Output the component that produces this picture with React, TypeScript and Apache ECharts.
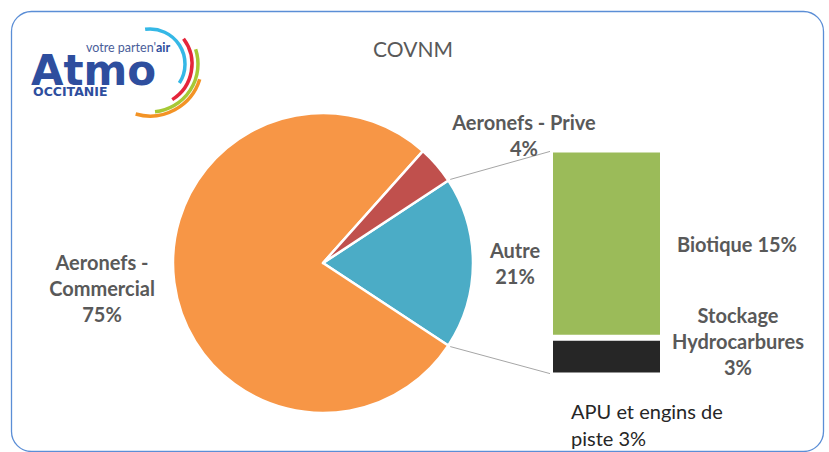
import React, { useEffect, useRef } from "react";
import * as echarts from "echarts";

// ---- data ----
const title = "COVNM";
const pieNames = ["Autre", "Aeronefs - Commercial", "Aeronefs - Prive"];
const commercial = 75;
const prive = 4;
const barNames = ["Biotique", "Stockage Hydrocarbures"];
const biotique = 15;
const stockage = 3;
const apuName = "APU et engins de piste";
const apu = 3;

// values drawn (Autre slice = bar items)
const autreDrawn = biotique + stockage;
const pieValues = [autreDrawn, commercial, prive];
// values written on the labels (Autre includes APU)
const pieLabelValues = [biotique + stockage + apu, commercial, prive];
const pieLabelTexts = ["Autre", "Aeronefs -\nCommercial", "Aeronefs - Prive"];
const pieColors = ["#4BACC6", "#F79646", "#C0504D"];
const barColors = ["#9BBB59", "#262626"];

// ---- layout ----
const W = 829;
const H = 452;
const PIE_CX = 323;
const PIE_CY = 263;
const PIE_R = 150;
const BAR_L = 550;
const BAR_T = 149.5;
const BAR_W = 113;
const BAR_H = 226;
const labelPos = [
  { x: 515, y: 263 },
  { x: 102, y: 288 },
  { x: 524, y: 135 },
];
const FONT = "Lato, 'Open Sans', sans-serif";
const GREY = "#595959";
const LSIZE = 20;

export default function App() {
  const ref = useRef<HTMLDivElement>(null);
  useEffect(() => {
    if (!ref.current) return;
    const chart = echarts.init(ref.current, undefined, { renderer: "svg" });
    const total = pieValues.reduce((a, b) => a + b, 0);
    const half = ((autreDrawn / total) * 360) / 2;
    const rad = (half * Math.PI) / 180;
    const px = PIE_CX + PIE_R * Math.cos(rad);
    const pyTop = PIE_CY - PIE_R * Math.sin(rad);
    const pyBot = PIE_CY + PIE_R * Math.sin(rad);
    const barLeft = BAR_L + 1.5;
    const barTop = BAR_T + 1.5;
    const barBot = BAR_T + BAR_H - 1.5;

    const deg = (d: number) => (d * Math.PI) / 180;
    const LCX = 150;
    const LCY = 64;
    const arcs = [
      { r: 35, s: -98, e: 33, c: "#35B8E6" },
      { r: 42, s: -37, e: 58, c: "#E4263B" },
      { r: 48, s: -18, e: 84, c: "#A6C935" },
      { r: 52, s: 17, e: 106, c: "#F39325" },
    ];

    chart.setOption({
      animation: false,
      title: {
        text: title,
        left: 408,
        top: 33,
        textAlign: "center",
        textStyle: { fontFamily: FONT, fontSize: 21, fontWeight: "normal", color: GREY },
      },
      grid: { left: BAR_L, top: BAR_T, width: BAR_W, height: BAR_H },
      xAxis: { type: "category", data: ["Autre"], show: false },
      yAxis: { type: "value", min: 0, max: biotique + stockage, show: false },
      series: [
        {
          type: "pie",
          center: [PIE_CX, PIE_CY],
          radius: PIE_R,
          startAngle: half,
          clockwise: true,
          data: pieNames.map((n, i) => ({
            name: n,
            value: pieValues[i],
            itemStyle: { color: pieColors[i] },
            label: { formatter: pieLabelTexts[i] + "\n" + pieLabelValues[i] + "%" },
          })),
          itemStyle: { borderColor: "#fff", borderWidth: 2.5 },
          label: {
            show: true,
            position: "outside",
            fontFamily: FONT,
            fontSize: LSIZE,
            fontWeight: "bold",
            color: GREY,
            lineHeight: 26,
            align: "center",
          },
          labelLine: { show: false },
          labelLayout: (p: any) => ({
            x: labelPos[p.dataIndex].x,
            y: labelPos[p.dataIndex].y,
            align: "center",
            verticalAlign: "middle",
          }),
        },
        {
          type: "bar",
          name: barNames[1],
          stack: "s",
          barWidth: "100%",
          data: [stockage],
          itemStyle: { color: barColors[1], borderColor: "#fff", borderWidth: 3 },
          label: {
            show: true,
            position: "right",
            distance: 75,
            align: "center",
            offset: [0, -16],
            formatter: "Stockage\nHydrocarbures\n" + stockage + "%",
            fontFamily: FONT,
            fontSize: LSIZE,
            fontWeight: "bold",
            color: GREY,
            lineHeight: 26,
          },
        },
        {
          type: "bar",
          name: barNames[0],
          stack: "s",
          barWidth: "100%",
          data: [biotique],
          itemStyle: { color: barColors[0], borderColor: "#fff", borderWidth: 3 },
          label: {
            show: true,
            position: "right",
            distance: 14,
            formatter: barNames[0] + " " + biotique + "%",
            fontFamily: FONT,
            fontSize: LSIZE,
            fontWeight: "bold",
            color: GREY,
          },
        },
      ],
      graphic: [
        {
          type: "rect",
          shape: { x: 11.5, y: 11.5, width: 812, height: 440, r: 20 },
          style: { fill: "none", stroke: "#5B8ED6", lineWidth: 1.3 },
          z: -1,
        },
        {
          type: "line",
          shape: { x1: px + 2, y1: pyTop - 1, x2: barLeft, y2: barTop },
          style: { stroke: "#A6A6A6", lineWidth: 1 },
        },
        {
          type: "line",
          shape: { x1: px + 2, y1: pyBot + 1, x2: barLeft, y2: barBot },
          style: { stroke: "#A6A6A6", lineWidth: 1 },
        },
        {
          type: "text",
          left: 571,
          top: 397,
          style: {
            text: "APU et engins de\npiste " + apu + "%",
            fontFamily: FONT,
            fontSize: LSIZE,
            lineHeight: 27,
            fill: "#262626",
          },
        },
        // logo
        {
          type: "text",
          left: 31,
          top: 49,
          style: {
            text: "Atmo",
            fontFamily: "'DejaVu Sans', sans-serif",
            fontSize: 42,
            fontWeight: "bold",
            lineHeight: 24,
            fill: "#2E4E9E",
          },
        },
        {
          type: "text",
          left: 86,
          top: 41,
          style: {
            text: "{a|votre parten'}{b|air}",
            rich: {
              a: { fontFamily: FONT, fontSize: 12.5, lineHeight: 8, fill: "#4A5E9A" },
              b: { fontFamily: FONT, fontSize: 12.5, lineHeight: 8, fontWeight: "bold", fill: "#2E4E9E" },
            },
          },
        },
        {
          type: "text",
          left: 33,
          top: 85,
          style: {
            text: "OCCITANIE",
            fontFamily: "'DejaVu Sans', sans-serif",
            fontSize: 12.5,
            lineHeight: 12,
            fontWeight: "bold",
            fill: "#2E4E9E",
          },
        },
        ...arcs.map((a) => ({
          type: "arc",
          shape: { cx: LCX, cy: LCY, r: a.r, startAngle: deg(a.s), endAngle: deg(a.e), clockwise: true },
          style: { stroke: a.c, lineWidth: 3.5, fill: "none" },
        })),
      ],
    });
    return () => chart.dispose();
  }, []);
  return (
    <div
      ref={ref}
      style={{ position: "fixed", left: 0, top: 0, width: W, height: H, background: "#fff" }}
    />
  );
}
